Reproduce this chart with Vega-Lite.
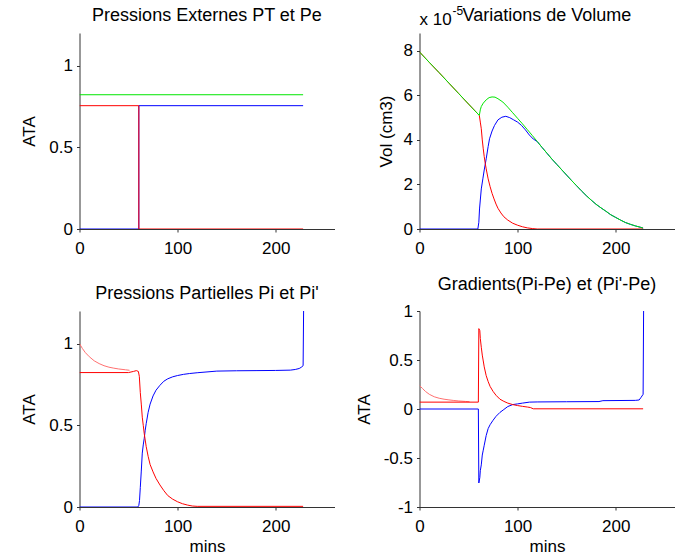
{
  "$schema": "https://vega.github.io/schema/vega-lite/v6.json",
  "background": "white",
  "padding": {"left": 20.5, "top": 5, "right": 5, "bottom": 5},
  "config": {
    "view": {"stroke": null},
    "font": "Liberation Sans",
    "axis": {"grid": false, "domainColor": "#333333", "tickColor": "#333333", "labelColor": "#000000", "titleColor": "#000000", "labelFont": "Liberation Sans", "titleFont": "Liberation Sans", "labelFontSize": 17, "titleFontSize": 17, "titleFontWeight": "normal", "tickSize": 3, "labelPadding": 4, "labelFlush": false, "labelOverlap": false, "labelExpr": "'' + datum.value"},
    "axisY": {"titlePadding": 10},
    "axisX": {"titlePadding": 4, "labelPadding": 8.5},
    "title": {"font": "Liberation Sans", "fontSize": 18, "fontWeight": "normal", "color": "#000000", "offset": 8},
    "line": {"strokeWidth": 1}
  },
  "datasets": {
    "p1": [
      {"x": 0, "y": 0, "s": "Pe'"}, {"x": 60.5, "y": 0, "s": "Pe'"}, {"x": 60.5, "y": 0.755, "s": "Pe'"}, {"x": 228, "y": 0.755, "s": "Pe'"},
      {"x": 0, "y": 0.755, "s": "Pe"}, {"x": 60.5, "y": 0.755, "s": "Pe"}, {"x": 60.5, "y": 0, "s": "Pe"}, {"x": 228, "y": 0, "s": "Pe"},
      {"x": 0, "y": 0.822, "s": "PT"}, {"x": 228, "y": 0.822, "s": "PT"}
    ],
    "p2": [
      {"x": 0, "y": 0, "s": "V'"}, {"x": 59.5, "y": 0, "s": "V'"}, {"x": 60.5, "y": 0.3, "s": "V'"}, {"x": 61.2, "y": 0.9, "s": "V'"}, {"x": 62, "y": 1.3, "s": "V'"}, {"x": 63, "y": 1.8, "s": "V'"}, {"x": 64.6, "y": 2.25, "s": "V'"}, {"x": 66, "y": 2.65, "s": "V'"}, {"x": 68, "y": 3.15, "s": "V'"}, {"x": 70, "y": 3.7, "s": "V'"}, {"x": 71.4, "y": 4.05, "s": "V'"}, {"x": 74, "y": 4.4, "s": "V'"}, {"x": 76.5, "y": 4.65, "s": "V'"}, {"x": 80, "y": 4.9, "s": "V'"}, {"x": 84, "y": 5.02, "s": "V'"}, {"x": 88, "y": 5.06, "s": "V'"}, {"x": 92, "y": 5.0, "s": "V'"}, {"x": 96, "y": 4.9, "s": "V'"}, {"x": 100, "y": 4.8, "s": "V'"}, {"x": 104, "y": 4.65, "s": "V'"}, {"x": 108, "y": 4.45, "s": "V'"}, {"x": 112, "y": 4.22, "s": "V'"}, {"x": 116, "y": 4.04, "s": "V'"}, {"x": 120, "y": 3.93, "s": "V'"}, {"x": 125, "y": 3.66, "s": "V'"}, {"x": 130, "y": 3.4, "s": "V'"}, {"x": 135, "y": 3.14, "s": "V'"}, {"x": 140, "y": 2.9, "s": "V'"}, {"x": 145, "y": 2.66, "s": "V'"}, {"x": 150, "y": 2.42, "s": "V'"}, {"x": 155, "y": 2.18, "s": "V'"}, {"x": 160, "y": 1.95, "s": "V'"}, {"x": 165, "y": 1.72, "s": "V'"}, {"x": 170, "y": 1.5, "s": "V'"}, {"x": 175, "y": 1.3, "s": "V'"}, {"x": 180, "y": 1.11, "s": "V'"}, {"x": 185, "y": 0.95, "s": "V'"}, {"x": 190, "y": 0.8, "s": "V'"}, {"x": 195, "y": 0.64, "s": "V'"}, {"x": 200, "y": 0.52, "s": "V'"}, {"x": 205, "y": 0.4, "s": "V'"}, {"x": 210, "y": 0.29, "s": "V'"}, {"x": 215, "y": 0.21, "s": "V'"}, {"x": 220, "y": 0.14, "s": "V'"}, {"x": 225, "y": 0.08, "s": "V'"}, {"x": 228, "y": 0.04, "s": "V'"},
      {"x": 0, "y": 7.95, "s": "V"}, {"x": 10, "y": 7.48, "s": "V"}, {"x": 20, "y": 7.02, "s": "V"}, {"x": 30, "y": 6.55, "s": "V"}, {"x": 40, "y": 6.08, "s": "V"}, {"x": 50, "y": 5.61, "s": "V"}, {"x": 61, "y": 5.1, "s": "V"}, {"x": 62, "y": 4.8, "s": "V"}, {"x": 63, "y": 4.5, "s": "V"}, {"x": 64, "y": 4.0, "s": "V"}, {"x": 65, "y": 3.6, "s": "V"}, {"x": 66, "y": 3.25, "s": "V"}, {"x": 67, "y": 2.95, "s": "V"}, {"x": 68, "y": 2.7, "s": "V"}, {"x": 70, "y": 2.25, "s": "V"}, {"x": 72, "y": 1.9, "s": "V"}, {"x": 74, "y": 1.6, "s": "V"}, {"x": 76, "y": 1.35, "s": "V"}, {"x": 78, "y": 1.12, "s": "V"}, {"x": 80, "y": 0.93, "s": "V"}, {"x": 83, "y": 0.72, "s": "V"}, {"x": 86, "y": 0.55, "s": "V"}, {"x": 90, "y": 0.4, "s": "V"}, {"x": 95, "y": 0.26, "s": "V"}, {"x": 100, "y": 0.17, "s": "V"}, {"x": 105, "y": 0.1, "s": "V"}, {"x": 110, "y": 0.05, "s": "V"}, {"x": 115, "y": 0.02, "s": "V"}, {"x": 120, "y": 0, "s": "V"}, {"x": 228, "y": 0, "s": "V"},
      {"x": 0, "y": 7.95, "s": "Vt"}, {"x": 10, "y": 7.48, "s": "Vt"}, {"x": 20, "y": 7.02, "s": "Vt"}, {"x": 30, "y": 6.55, "s": "Vt"}, {"x": 40, "y": 6.08, "s": "Vt"}, {"x": 50, "y": 5.61, "s": "Vt"}, {"x": 61, "y": 5.1, "s": "Vt"}, {"x": 62, "y": 5.35, "s": "Vt"}, {"x": 63, "y": 5.5, "s": "Vt"}, {"x": 65, "y": 5.65, "s": "Vt"}, {"x": 68, "y": 5.8, "s": "Vt"}, {"x": 71, "y": 5.9, "s": "Vt"}, {"x": 74, "y": 5.93, "s": "Vt"}, {"x": 77, "y": 5.92, "s": "Vt"}, {"x": 80, "y": 5.85, "s": "Vt"}, {"x": 85, "y": 5.7, "s": "Vt"}, {"x": 90, "y": 5.47, "s": "Vt"}, {"x": 95, "y": 5.22, "s": "Vt"}, {"x": 100, "y": 4.97, "s": "Vt"}, {"x": 105, "y": 4.72, "s": "Vt"}, {"x": 110, "y": 4.46, "s": "Vt"}, {"x": 115, "y": 4.2, "s": "Vt"}, {"x": 120, "y": 3.93, "s": "Vt"}, {"x": 125, "y": 3.66, "s": "Vt"}, {"x": 130, "y": 3.4, "s": "Vt"}, {"x": 135, "y": 3.14, "s": "Vt"}, {"x": 140, "y": 2.9, "s": "Vt"}, {"x": 145, "y": 2.66, "s": "Vt"}, {"x": 150, "y": 2.42, "s": "Vt"}, {"x": 155, "y": 2.18, "s": "Vt"}, {"x": 160, "y": 1.95, "s": "Vt"}, {"x": 165, "y": 1.72, "s": "Vt"}, {"x": 170, "y": 1.5, "s": "Vt"}, {"x": 175, "y": 1.3, "s": "Vt"}, {"x": 180, "y": 1.11, "s": "Vt"}, {"x": 185, "y": 0.95, "s": "Vt"}, {"x": 190, "y": 0.8, "s": "Vt"}, {"x": 195, "y": 0.64, "s": "Vt"}, {"x": 200, "y": 0.52, "s": "Vt"}, {"x": 205, "y": 0.4, "s": "Vt"}, {"x": 210, "y": 0.29, "s": "Vt"}, {"x": 215, "y": 0.21, "s": "Vt"}, {"x": 220, "y": 0.14, "s": "Vt"}, {"x": 225, "y": 0.08, "s": "Vt"}, {"x": 228, "y": 0.04, "s": "Vt"}
    ],
    "p3": [
      {"x": 0, "y": 1.0, "s": "Pi0"}, {"x": 3, "y": 0.97, "s": "Pi0"}, {"x": 6, "y": 0.945, "s": "Pi0"}, {"x": 10, "y": 0.92, "s": "Pi0"}, {"x": 15, "y": 0.895, "s": "Pi0"}, {"x": 20, "y": 0.878, "s": "Pi0"}, {"x": 25, "y": 0.865, "s": "Pi0"}, {"x": 30, "y": 0.856, "s": "Pi0"}, {"x": 35, "y": 0.85, "s": "Pi0"}, {"x": 40, "y": 0.845, "s": "Pi0"}, {"x": 47, "y": 0.84, "s": "Pi0"}, {"x": 51, "y": 0.837, "s": "Pi0"},
      {"x": 0, "y": 0, "s": "Pi'"}, {"x": 59.5, "y": 0, "s": "Pi'"}, {"x": 60.5, "y": 0.01, "s": "Pi'"}, {"x": 61.2, "y": 0.04, "s": "Pi'"}, {"x": 62, "y": 0.12, "s": "Pi'"}, {"x": 63, "y": 0.22, "s": "Pi'"}, {"x": 64, "y": 0.33, "s": "Pi'"}, {"x": 65, "y": 0.38, "s": "Pi'"}, {"x": 66, "y": 0.42, "s": "Pi'"}, {"x": 67, "y": 0.47, "s": "Pi'"}, {"x": 68, "y": 0.51, "s": "Pi'"}, {"x": 70, "y": 0.58, "s": "Pi'"}, {"x": 72, "y": 0.63, "s": "Pi'"}, {"x": 75, "y": 0.68, "s": "Pi'"}, {"x": 78, "y": 0.715, "s": "Pi'"}, {"x": 82, "y": 0.745, "s": "Pi'"}, {"x": 86, "y": 0.77, "s": "Pi'"}, {"x": 90, "y": 0.785, "s": "Pi'"}, {"x": 95, "y": 0.797, "s": "Pi'"}, {"x": 100, "y": 0.805, "s": "Pi'"}, {"x": 106, "y": 0.812, "s": "Pi'"}, {"x": 112, "y": 0.817, "s": "Pi'"}, {"x": 120, "y": 0.822, "s": "Pi'"}, {"x": 130, "y": 0.827, "s": "Pi'"}, {"x": 140, "y": 0.832, "s": "Pi'"}, {"x": 160, "y": 0.834, "s": "Pi'"}, {"x": 180, "y": 0.835, "s": "Pi'"}, {"x": 200, "y": 0.836, "s": "Pi'"}, {"x": 215, "y": 0.838, "s": "Pi'"}, {"x": 220, "y": 0.842, "s": "Pi'"}, {"x": 224, "y": 0.848, "s": "Pi'"}, {"x": 226, "y": 0.855, "s": "Pi'"}, {"x": 228, "y": 0.865, "s": "Pi'"}, {"x": 228.5, "y": 1.2, "s": "Pi'"},
      {"x": 0, "y": 0.823, "s": "Pi"}, {"x": 50, "y": 0.823, "s": "Pi"}, {"x": 55, "y": 0.83, "s": "Pi"}, {"x": 58, "y": 0.835, "s": "Pi"}, {"x": 60, "y": 0.83, "s": "Pi"}, {"x": 61, "y": 0.8, "s": "Pi"}, {"x": 62, "y": 0.7, "s": "Pi"}, {"x": 63, "y": 0.63, "s": "Pi"}, {"x": 64, "y": 0.55, "s": "Pi"}, {"x": 65, "y": 0.5, "s": "Pi"}, {"x": 66, "y": 0.45, "s": "Pi"}, {"x": 67, "y": 0.41, "s": "Pi"}, {"x": 68, "y": 0.37, "s": "Pi"}, {"x": 70, "y": 0.31, "s": "Pi"}, {"x": 72, "y": 0.26, "s": "Pi"}, {"x": 75, "y": 0.215, "s": "Pi"}, {"x": 78, "y": 0.175, "s": "Pi"}, {"x": 82, "y": 0.135, "s": "Pi"}, {"x": 86, "y": 0.1, "s": "Pi"}, {"x": 90, "y": 0.07, "s": "Pi"}, {"x": 95, "y": 0.048, "s": "Pi"}, {"x": 100, "y": 0.032, "s": "Pi"}, {"x": 105, "y": 0.02, "s": "Pi"}, {"x": 110, "y": 0.012, "s": "Pi"}, {"x": 115, "y": 0.006, "s": "Pi"}, {"x": 120, "y": 0.004, "s": "Pi"}, {"x": 228, "y": 0.004, "s": "Pi"}
    ],
    "p4": [
      {"x": 0, "y": 0.24, "s": "G0"}, {"x": 3, "y": 0.21, "s": "G0"}, {"x": 6, "y": 0.18, "s": "G0"}, {"x": 10, "y": 0.15, "s": "G0"}, {"x": 15, "y": 0.125, "s": "G0"}, {"x": 20, "y": 0.11, "s": "G0"}, {"x": 25, "y": 0.1, "s": "G0"}, {"x": 30, "y": 0.093, "s": "G0"}, {"x": 35, "y": 0.087, "s": "G0"}, {"x": 40, "y": 0.082, "s": "G0"}, {"x": 47, "y": 0.077, "s": "G0"}, {"x": 51, "y": 0.074, "s": "G0"},
      {"x": 0, "y": 0, "s": "G'"}, {"x": 60, "y": 0, "s": "G'"}, {"x": 60.5, "y": -0.755, "s": "G'"}, {"x": 61.5, "y": -0.7, "s": "G'"}, {"x": 62, "y": -0.63, "s": "G'"}, {"x": 63, "y": -0.57, "s": "G'"}, {"x": 64, "y": -0.47, "s": "G'"}, {"x": 65, "y": -0.42, "s": "G'"}, {"x": 66, "y": -0.37, "s": "G'"}, {"x": 68, "y": -0.27, "s": "G'"}, {"x": 70, "y": -0.2, "s": "G'"}, {"x": 72, "y": -0.16, "s": "G'"}, {"x": 75, "y": -0.115, "s": "G'"}, {"x": 78, "y": -0.075, "s": "G'"}, {"x": 82, "y": -0.035, "s": "G'"}, {"x": 86, "y": -0.005, "s": "G'"}, {"x": 90, "y": 0.025, "s": "G'"}, {"x": 95, "y": 0.045, "s": "G'"}, {"x": 100, "y": 0.052, "s": "G'"}, {"x": 105, "y": 0.06, "s": "G'"}, {"x": 112, "y": 0.07, "s": "G'"}, {"x": 120, "y": 0.072, "s": "G'"}, {"x": 150, "y": 0.074, "s": "G'"}, {"x": 183, "y": 0.076, "s": "G'"}, {"x": 187, "y": 0.085, "s": "G'"}, {"x": 220, "y": 0.088, "s": "G'"}, {"x": 224, "y": 0.092, "s": "G'"}, {"x": 226, "y": 0.12, "s": "G'"}, {"x": 228, "y": 0.15, "s": "G'"}, {"x": 228.5, "y": 1.0, "s": "G'"},
      {"x": 0, "y": 0.07, "s": "G"}, {"x": 60, "y": 0.07, "s": "G"}, {"x": 60.5, "y": 0.82, "s": "G"}, {"x": 61.5, "y": 0.8, "s": "G"}, {"x": 62, "y": 0.72, "s": "G"}, {"x": 63, "y": 0.63, "s": "G"}, {"x": 64, "y": 0.55, "s": "G"}, {"x": 65, "y": 0.49, "s": "G"}, {"x": 66, "y": 0.43, "s": "G"}, {"x": 68, "y": 0.34, "s": "G"}, {"x": 70, "y": 0.28, "s": "G"}, {"x": 72, "y": 0.23, "s": "G"}, {"x": 75, "y": 0.18, "s": "G"}, {"x": 78, "y": 0.14, "s": "G"}, {"x": 82, "y": 0.1, "s": "G"}, {"x": 86, "y": 0.078, "s": "G"}, {"x": 90, "y": 0.06, "s": "G"}, {"x": 95, "y": 0.045, "s": "G"}, {"x": 100, "y": 0.035, "s": "G"}, {"x": 105, "y": 0.027, "s": "G"}, {"x": 110, "y": 0.02, "s": "G"}, {"x": 113, "y": 0.015, "s": "G"}, {"x": 116, "y": 0.002, "s": "G"}, {"x": 228, "y": 0.002, "s": "G"}
    ]
  },
  "columns": 2,
  "spacing": {"row": 82, "column": 85},
  "bounds": "flush",
  "concat": [
    {
      "title": "Pressions Externes PT et Pe",
      "width": 255, "height": 196,
      "data": {"name": "p1"},
      "mark": {"type": "line", "clip": true},
      "encoding": {
        "x": {"field": "x", "type": "quantitative", "scale": {"domain": [0, 260], "nice": false, "zero": false}, "axis": {"values": [0, 100, 200], "title": null}},
        "y": {"field": "y", "type": "quantitative", "scale": {"domain": [0, 1.2], "nice": false}, "axis": {"values": [0, 0.5, 1], "title": "ATA"}},
        "color": {"field": "s", "type": "nominal", "scale": {"domain": ["Pe'", "Pe", "PT"], "range": ["#0000ff", "#ff0000", "#00e600"]}, "legend": null},
        "order": {"value": null}
      }
    },
    {
      "title": {"text": "Variations de Volume", "dy": 28},
      "width": 255, "height": 196,
      "data": {"name": "p2"},
      "layer": [
        {
          "mark": {"type": "line", "clip": true},
          "encoding": {
            "x": {"field": "x", "type": "quantitative", "scale": {"domain": [0, 260], "nice": false, "zero": false}, "axis": {"values": [0, 100, 200], "title": null}},
            "y": {"field": "y", "type": "quantitative", "scale": {"domain": [0, 8.8], "nice": false}, "axis": {"values": [0, 2, 4, 6, 8], "title": "Vol (cm3)", "titlePadding": 8}},
            "color": {"field": "s", "type": "nominal", "scale": {"domain": ["V'", "V", "Vt"], "range": ["#0000ff", "#ff0000", "#00e600"]}, "legend": null},
            "order": {"value": null}
          }
        },
        {
          "data": {"values": [{"t": "x 10"}]},
          "mark": {"type": "text", "align": "left", "baseline": "alphabetic", "font": "Liberation Sans", "fontSize": 17, "dy": -8, "color": "#000000"},
          "encoding": {
            "x": {"datum": 0, "type": "quantitative"},
            "y": {"datum": 8.8, "type": "quantitative"},
            "text": {"field": "t"}
          }
        },
        {
          "data": {"values": [{"t": "-5"}]},
          "mark": {"type": "text", "align": "left", "baseline": "alphabetic", "font": "Liberation Sans", "fontSize": 12, "dy": -18, "dx": 33, "color": "#000000"},
          "encoding": {
            "x": {"datum": 0, "type": "quantitative"},
            "y": {"datum": 8.8, "type": "quantitative"},
            "text": {"field": "t"}
          }
        }
      ]
    },
    {
      "title": "Pressions Partielles Pi et Pi'",
      "width": 255, "height": 196,
      "data": {"name": "p3"},
      "mark": {"type": "line", "clip": true},
      "encoding": {
        "x": {"field": "x", "type": "quantitative", "scale": {"domain": [0, 260], "nice": false, "zero": false}, "axis": {"values": [0, 100, 200], "title": "mins"}},
        "y": {"field": "y", "type": "quantitative", "scale": {"domain": [0, 1.2], "nice": false}, "axis": {"values": [0, 0.5, 1], "title": "ATA"}},
        "color": {"field": "s", "type": "nominal", "scale": {"domain": ["Pi0", "Pi'", "Pi"], "range": ["#ff7070", "#0000ff", "#ff0000"]}, "legend": null},
        "order": {"value": null}
      }
    },
    {
      "title": "Gradients(Pi-Pe) et (Pi'-Pe)",
      "width": 255, "height": 196,
      "data": {"name": "p4"},
      "mark": {"type": "line", "clip": true},
      "encoding": {
        "x": {"field": "x", "type": "quantitative", "scale": {"domain": [0, 260], "nice": false, "zero": false}, "axis": {"values": [0, 100, 200], "title": "mins"}},
        "y": {"field": "y", "type": "quantitative", "scale": {"domain": [-1, 1], "nice": false}, "axis": {"values": [-1, -0.5, 0, 0.5, 1], "title": "ATA"}},
        "color": {"field": "s", "type": "nominal", "scale": {"domain": ["G0", "G'", "G"], "range": ["#ff7070", "#0000ff", "#ff0000"]}, "legend": null},
        "order": {"value": null}
      }
    }
  ],
  "resolve": {"scale": {"color": "independent", "x": "independent", "y": "independent"}}
}
